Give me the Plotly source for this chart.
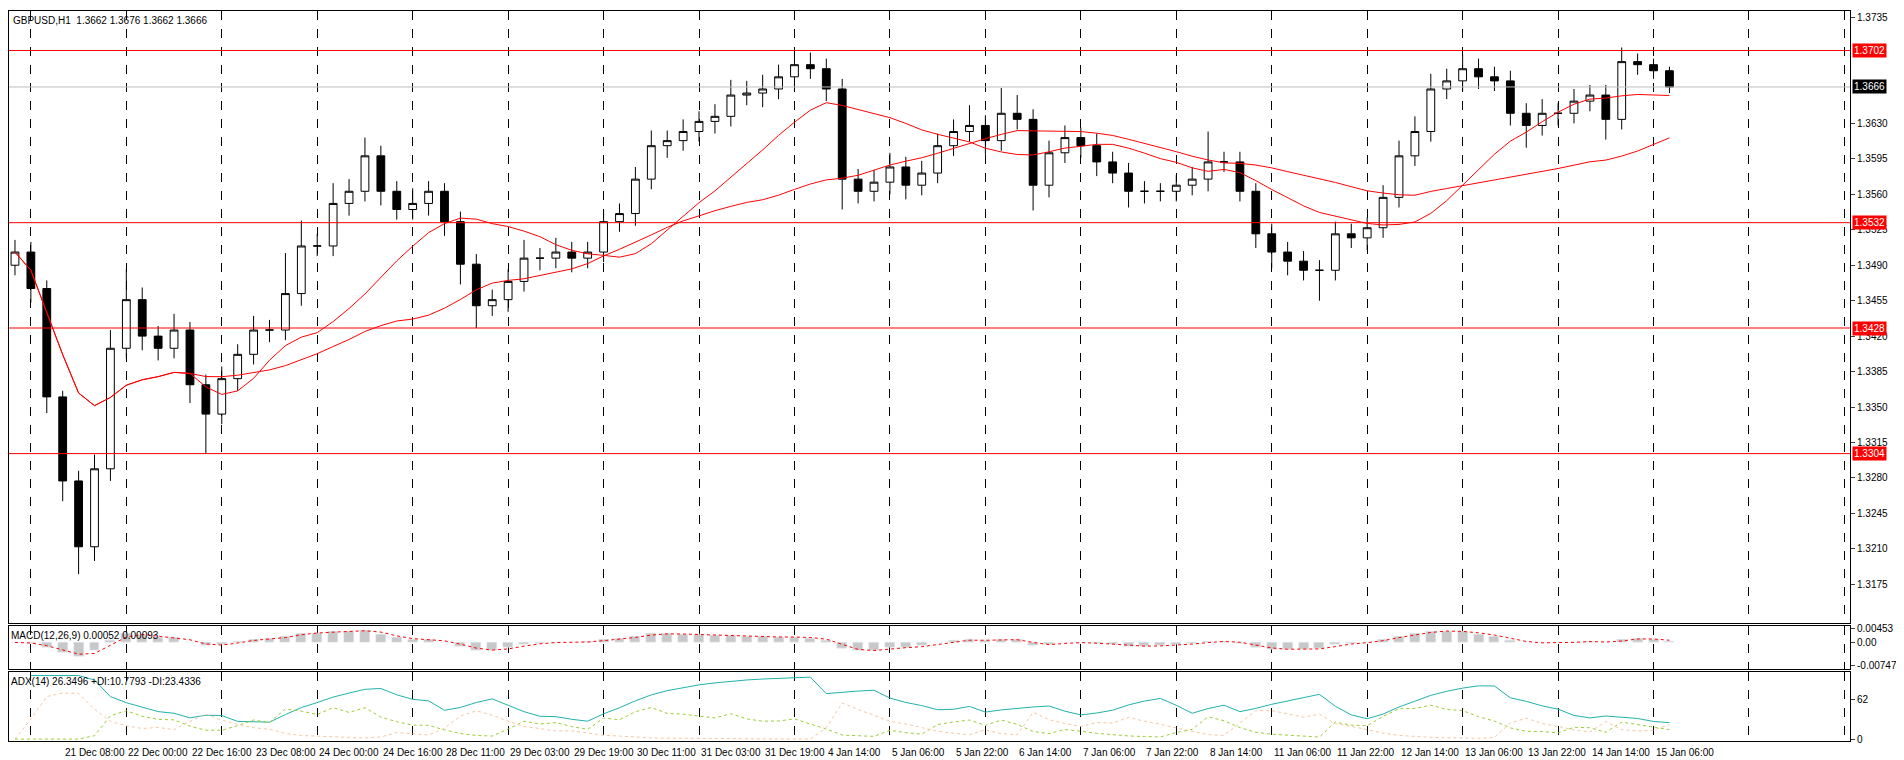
import numpy as np
import pandas as pd
import plotly.graph_objects as go
from plotly.subplots import make_subplots

# GBPUSD, 4-hour steps (hour 0 = 21 Dec 08:00)
closes = [1.3503, 1.3467, 1.3360, 1.3277, 1.3212, 1.3289, 1.3408, 1.3456, 1.3420, 1.3408,
          1.3426, 1.3372, 1.3343, 1.3378, 1.3402, 1.3426, 1.3426, 1.3462, 1.3509, 1.3509,
          1.3551, 1.3563, 1.3598, 1.3563, 1.3545, 1.3551, 1.3563, 1.3533, 1.3491, 1.3450,
          1.3456, 1.3474, 1.3497, 1.3497, 1.3503, 1.3497, 1.3503, 1.3533, 1.3541, 1.3575,
          1.3608, 1.3613, 1.3622, 1.3632, 1.3637, 1.3658, 1.3660, 1.3664, 1.3676, 1.3688,
          1.3684, 1.3664, 1.3575, 1.3563, 1.3572, 1.3587, 1.3569, 1.3581, 1.3608, 1.3622,
          1.3628, 1.3613, 1.3640, 1.3634, 1.3569, 1.3601, 1.3616, 1.3608, 1.3592, 1.3581,
          1.3563, 1.3563, 1.3563, 1.3569, 1.3575, 1.3592, 1.3592, 1.3563, 1.3521, 1.3503,
          1.3494, 1.3485, 1.3485, 1.3521, 1.3517, 1.3527, 1.3557, 1.3598, 1.3622, 1.3664,
          1.3672, 1.3684, 1.3676, 1.3672, 1.3640, 1.3628, 1.3640, 1.3640, 1.3652, 1.3658,
          1.3634, 1.3691, 1.3688, 1.3682, 1.3666]
first_open = 1.3490
# wick lengths in pips above / below the candle body
up_wick = [12, 10, 8, 6, 10, 14, 18, 30, 12, 10, 16, 8, 10, 12, 10, 14, 10, 40, 25, 12,
           20, 12, 18, 10, 10, 15, 10, 8, 10, 10, 10, 12, 18, 10, 14, 10, 10, 12, 10, 12,
           15, 10, 12, 10, 12, 15, 12, 14, 12, 14, 12, 10, 10, 10, 12, 14, 10, 12, 12, 12,
           20, 10, 25, 18, 10, 12, 12, 10, 12, 10, 10, 10, 8, 10, 12, 30, 10, 10, 8, 10,
           10, 10, 10, 12, 10, 10, 12, 15, 15, 15, 12, 14, 10, 10, 10, 10, 14, 10, 12, 10,
           10, 14, 8, 6, 4]
down_wick = [10, 14, 16, 20, 27, 14, 12, 10, 14, 12, 10, 18, 39, 10, 12, 10, 12, 10, 12, 10,
             10, 12, 10, 14, 10, 10, 12, 14, 20, 22, 10, 12, 10, 12, 10, 14, 10, 10, 10, 12,
             10, 12, 10, 10, 12, 10, 10, 14, 10, 10, 10, 12, 30, 12, 10, 12, 14, 10, 10, 10,
             10, 14, 10, 10, 25, 12, 10, 12, 14, 10, 16, 12, 10, 10, 10, 12, 10, 10, 14, 16,
             14, 10, 30, 10, 10, 12, 10, 10, 10, 10, 10, 10, 12, 10, 12, 22, 10, 12, 10, 10,
             20, 10, 10, 8, 6]
level_lines = [1.3702, 1.3532, 1.3428, 1.3304]
last_price = 1.3666
time_labels = ["20 Dec 2020", "21 Dec 08:00", "22 Dec 00:00", "22 Dec 16:00", "23 Dec 08:00",
               "24 Dec 00:00", "24 Dec 16:00", "28 Dec 11:00", "29 Dec 03:00", "29 Dec 19:00",
               "30 Dec 11:00", "31 Dec 03:00", "31 Dec 19:00", "4 Jan 14:00", "5 Jan 06:00",
               "5 Jan 22:00", "6 Jan 14:00", "7 Jan 06:00", "7 Jan 22:00", "8 Jan 14:00",
               "11 Jan 06:00", "11 Jan 22:00", "12 Jan 14:00", "13 Jan 06:00", "13 Jan 22:00",
               "14 Jan 14:00", "15 Jan 06:00"]
price_ticks = [1.3175, 1.3210, 1.3245, 1.3280, 1.3315, 1.3350, 1.3385, 1.3420, 1.3455,
               1.3490, 1.3525, 1.3560, 1.3595, 1.3630, 1.3735]

n = len(closes)
hours = [-12 + 4 * i for i in range(n)]
c = pd.Series(closes)
o = pd.Series([first_open] + closes[:-1])
h = np.maximum(o, c) + pd.Series(up_wick) * 0.0001
l = np.minimum(o, c) - pd.Series(down_wick) * 0.0001

# indicators (H1 periods scaled to 4h bars)
ma_fast = c.rolling(12, min_periods=1).mean()
ma_slow = c.rolling(25, min_periods=1).mean()
macd = c.ewm(span=3).mean() - c.ewm(span=6.5).mean()
signal = macd.rolling(2, min_periods=1).mean()
tr = pd.concat([h - l, (h - c.shift()).abs(), (l - c.shift()).abs()], axis=1).max(axis=1)
upm = h.diff()
dnm = -l.diff()
pdm = np.where((upm > dnm) & (upm > 0), upm, 0.0)
ndm = np.where((dnm > upm) & (dnm > 0), dnm, 0.0)
a = 1 / 3.5
atr = tr.ewm(alpha=a).mean()
pdi = 100 * pd.Series(pdm).ewm(alpha=a).mean() / atr
ndi = 100 * pd.Series(ndm).ewm(alpha=a).mean() / atr
dx = 100 * (pdi - ndi).abs() / (pdi + ndi)
adx = dx.ewm(alpha=a).mean()
adx_top = float(max(adx.max(), pdi.max(), ndi.max())) * 1.05

fig = make_subplots(rows=3, cols=1, shared_xaxes=True)
fig.add_trace(go.Candlestick(x=hours, open=o, high=h, low=l, close=c,
                             increasing=dict(line=dict(color="black", width=1), fillcolor="white"),
                             decreasing=dict(line=dict(color="black", width=1), fillcolor="black"),
                             whiskerwidth=0, hoverinfo="skip"), row=1, col=1)
fig.add_trace(go.Scatter(x=hours, y=ma_fast, mode="lines", line=dict(color="red", width=1)), row=1, col=1)
fig.add_trace(go.Scatter(x=hours, y=ma_slow, mode="lines", line=dict(color="red", width=1)), row=1, col=1)
fig.add_trace(go.Bar(x=hours, y=macd, marker_color="#c8c8c8", width=2.5), row=2, col=1)
fig.add_trace(go.Scatter(x=hours, y=signal, mode="lines", line=dict(color="red", width=1, dash="dot")), row=2, col=1)
fig.add_trace(go.Scatter(x=hours, y=adx, mode="lines", line=dict(color="#20b2aa", width=1)), row=3, col=1)
fig.add_trace(go.Scatter(x=hours, y=pdi, mode="lines", line=dict(color="#9acd32", width=1, dash="dot")), row=3, col=1)
fig.add_trace(go.Scatter(x=hours, y=ndi, mode="lines", line=dict(color="#f5c6a0", width=1, dash="dot")), row=3, col=1)

for lv in level_lines:
    fig.add_hline(y=lv, line=dict(color="red", width=1), row=1, col=1)
fig.add_hline(y=last_price, line=dict(color="#bdbdbd", width=1), row=1, col=1)

xr = [-13.5, 449.4]
for ax in ["xaxis", "xaxis2", "xaxis3"]:
    fig.layout[ax].update(range=xr, showgrid=True, gridcolor="black", griddash="dash", gridwidth=1,
                          tick0=-8, dtick=24, showticklabels=False, zeroline=False,
                          showline=True, linecolor="black", mirror=True, rangeslider_visible=False)
axfont = dict(family="Liberation Sans", size=10, color="black")
fig.update_layout(
    yaxis=dict(domain=[0.162, 1], range=[1.3137, 1.3741], side="right", tickvals=price_ticks,
               tickformat=".4f", showgrid=False, zeroline=False, showline=True, linecolor="black",
               mirror=True, ticks="outside", ticklen=4, tickfont=axfont),
    yaxis2=dict(domain=[0.099, 0.157], range=[-0.0085, 0.0052], side="right",
                tickvals=[0.00453, 0, -0.00747], ticktext=["0.00453", "0.00", "-0.00747"],
                showgrid=False, zeroline=False, showline=True, linecolor="black", mirror=True,
                ticks="outside", ticklen=4, tickfont=axfont),
    yaxis3=dict(domain=[0, 0.094], range=[-3, adx_top], side="right", tickvals=[62, 0],
                showgrid=False, zeroline=False, showline=True, linecolor="black", mirror=True,
                ticks="outside", ticklen=4, tickfont=axfont),
    width=1904, height=760, margin=dict(l=0, r=62, t=0, b=27),
    paper_bgcolor="white", plot_bgcolor="white", showlegend=False, bargap=0,
    font=dict(family="Liberation Sans", size=10, color="black"),
)

for k, txt in enumerate(time_labels):
    hr = 16 * (k - 1)
    fig.add_annotation(x=hr, y=0, xref="x3", yref="paper", text=txt, showarrow=False,
                       xanchor="left", yanchor="top", yshift=-4, font=axfont)

fig.add_annotation(x=0, y=1, xref="paper", yref="paper", text="GBPUSD,H1  1.3662 1.3676 1.3662 1.3666",
                   showarrow=False, xanchor="left", yanchor="top", xshift=2, yshift=-2, font=axfont)
fig.add_annotation(x=0, y=0.157, xref="paper", yref="paper", text="MACD(12,26,9) 0.00052 0.00093",
                   showarrow=False, xanchor="left", yanchor="top", yshift=-2, font=axfont)
fig.add_annotation(x=0, y=0.094, xref="paper", yref="paper", text="ADX(14) 26.3496 +DI:10.7793 -DI:23.4336",
                   showarrow=False, xanchor="left", yanchor="top", yshift=-2, font=axfont)

# price labels on the right axis
for lv in level_lines:
    fig.add_annotation(x=1, y=lv, xref="paper", yref="y", text=f"{lv:.4f}", showarrow=False,
                       xanchor="left", xshift=2, bgcolor="red", font=dict(family="Liberation Sans", size=10, color="white"))
fig.add_annotation(x=1, y=last_price, xref="paper", yref="y", text=f"{last_price:.4f}", showarrow=False,
                   xanchor="left", xshift=2, bgcolor="black", font=dict(family="Liberation Sans", size=10, color="white"))

fig.write_html("out.html")
